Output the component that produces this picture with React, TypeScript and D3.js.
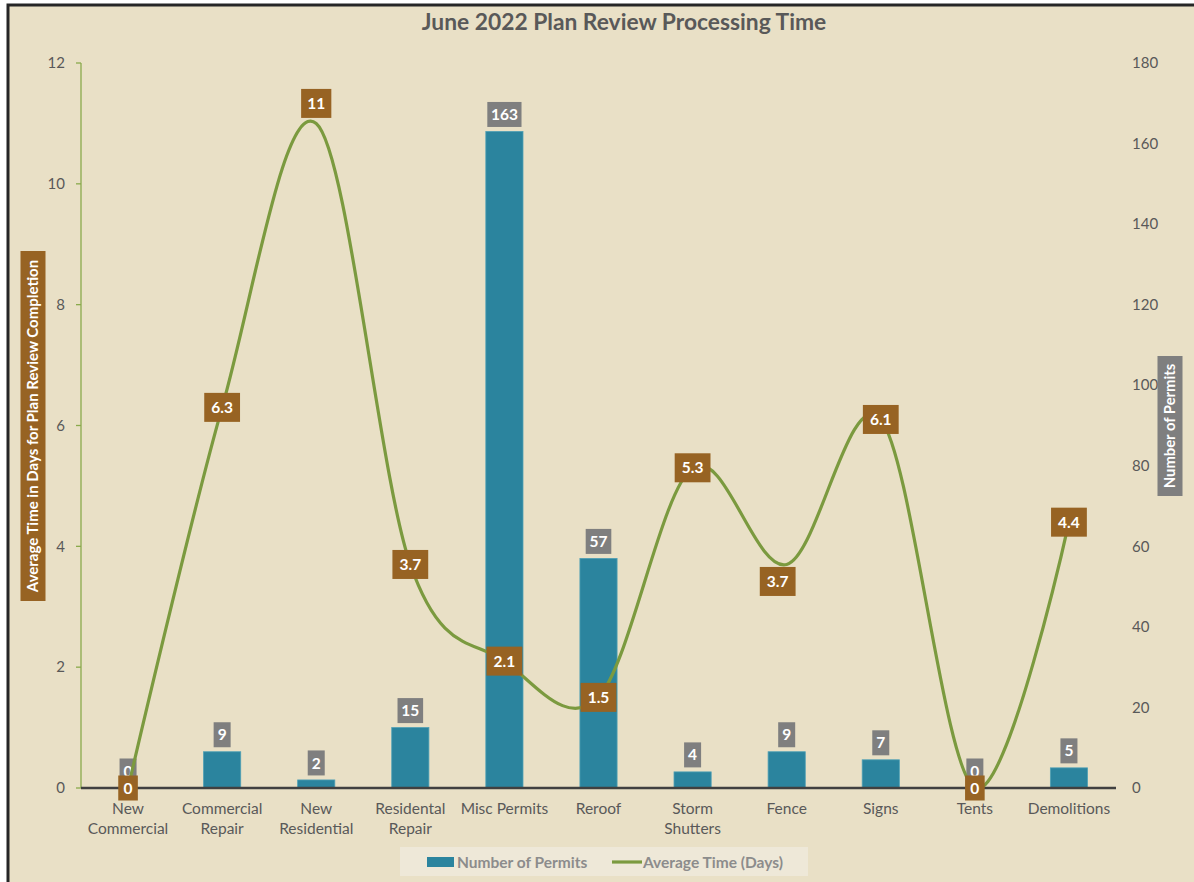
import React from "react";
import * as d3 from "d3";

const categories = [
  ["New", "Commercial"],
  ["Commercial", "Repair"],
  ["New", "Residential"],
  ["Residental", "Repair"],
  ["Misc Permits"],
  ["Reroof"],
  ["Storm", "Shutters"],
  ["Fence"],
  ["Signs"],
  ["Tents"],
  ["Demolitions"],
];
const permits = [0, 9, 2, 15, 163, 57, 4, 9, 7, 0, 5];
const avgDays = [0, 6.3, 11, 3.7, 2.1, 1.5, 5.3, 3.7, 6.1, 0, 4.4];
const avgLabelPlacement = ["center", "center", "above", "center", "center", "center", "center", "below", "center", "center", "center"];
const leftTicks = [0, 2, 4, 6, 8, 10, 12];
const rightTicks = [0, 20, 40, 60, 80, 100, 120, 140, 160, 180];

const W = 1194;
const H = 882;
const plot = { left: 81, right: 1116, top: 63, bottom: 788 };
const FONT = "Lato, 'Open Sans', sans-serif";
const TXT = "#595959";

export default function App() {
  const keys = categories.map((_, i) => String(i));
  const x = d3.scaleBand<string>().domain(keys).range([plot.left, plot.right]).padding(0);
  const yL = d3.scaleLinear().domain([0, 12]).range([plot.bottom, plot.top]);
  const yR = d3.scaleLinear().domain([0, 180]).range([plot.bottom, plot.top]);
  const bw = x.bandwidth();
  const barW = bw * 0.395;
  const cx = (i: number) => (x(String(i)) as number) + bw / 2;

  const line = d3
    .line<number>()
    .x((_, i) => cx(i))
    .y((d) => yL(d))
    .curve(d3.curveCardinal.tension(0));

  const gridXs = keys.slice(1).map((k) => x(k) as number).concat([plot.right]);

  const boxW = (s: string, per: number, pad: number) => s.length * per + pad * 2 - (s.includes(".") ? 3 : 0);

  return (
    <svg width={W} height={H} style={{ position: "absolute", left: 0, top: 0 }} fontFamily={FONT}>
      <defs>
        <linearGradient id="gridGrad" x1="0" y1="0" x2="0" y2="1">
          <stop offset="0" stopColor="#DDD8CC" />
          <stop offset="1" stopColor="#A9A7A2" />
        </linearGradient>
      </defs>
      <rect x={0} y={0} width={W} height={H} fill="#ffffff" />
      <rect x={8} y={5} width={W + 10} height={H + 10} fill="#E9E0C6" stroke="#262626" strokeWidth={3} />

      <text x={624} y={30} textAnchor="middle" fontSize={22.8} fontWeight={700} fill={TXT}>
        June 2022 Plan Review Processing Time
      </text>

      {gridXs.map((gx, i) => (
        <line key={i} x1={gx} x2={gx} y1={plot.top} y2={plot.bottom} stroke="url(#gridGrad)" strokeWidth={1.3} />
      ))}

      <line x1={plot.left} x2={plot.left} y1={plot.top} y2={plot.bottom} stroke="#8AAA4C" strokeWidth={1.3} />
      {leftTicks.map((t) => (
        <g key={t}>
          <line x1={plot.left - 5} x2={plot.left} y1={yL(t)} y2={yL(t)} stroke="#8AAA4C" strokeWidth={1.3} />
          <text x={65} y={yL(t)} dy="0.35em" textAnchor="end" fontSize={15} fill={TXT}>
            {t}
          </text>
        </g>
      ))}
      {rightTicks.map((t) => (
        <text key={t} x={1132} y={yR(t)} dy="0.35em" textAnchor="start" fontSize={15} fill={TXT}>
          {t}
        </text>
      ))}

      {permits.map((v, i) => (
        <rect
          key={i}
          x={cx(i) - barW / 2}
          y={yR(v)}
          width={barW}
          height={plot.bottom - yR(v)}
          fill="#2B849E"
          stroke="#4FA0B5"
          strokeWidth={0.8}
        />
      ))}

      <line x1={plot.left} x2={plot.right} y1={plot.bottom} y2={plot.bottom} stroke="#404040" strokeWidth={2.5} />

      {permits.map((v, i) => {
        const s = String(v);
        const w = boxW(s, 8.6, 4.2);
        const cy = yR(v) - 17;
        return (
          <g key={i}>
            <rect x={cx(i) - w / 2} y={cy - 12.5} width={w} height={25} fill="#7F7F7F" />
            <text x={cx(i)} y={cy} dy="0.36em" textAnchor="middle" fontSize={15.5} fontWeight={700} fill="#fff">
              {s}
            </text>
          </g>
        );
      })}

      <path d={line(avgDays) || ""} fill="none" stroke="#7B9A3F" strokeWidth={3.2} />

      {avgDays.map((v, i) => {
        const s = String(v);
        const w = boxW(s, 8.6, s.length > 1 ? 6.5 : 5.5);
        const p = avgLabelPlacement[i];
        const cy = yL(v) + (p === "above" ? -20 : p === "below" ? 17 : 0);
        const lx = cx(i) + (p === "below" ? -9 : 0);
        const h = s.length > 1 ? 29 : 25;
        return (
          <g key={i}>
            <rect x={lx - w / 2} y={cy - h / 2} width={w} height={h} fill="#976323" />
            <text x={lx} y={cy} dy="0.36em" textAnchor="middle" fontSize={15.5} fontWeight={700} fill="#fff">
              {s}
            </text>
          </g>
        );
      })}

      {categories.map((lines, i) => (
        <text key={i} x={cx(i)} y={814} textAnchor="middle" fontSize={15.5} fill={TXT}>
          {lines.map((l, j) => (
            <tspan key={j} x={cx(i)} dy={j === 0 ? 0 : 20}>
              {l}
            </tspan>
          ))}
        </text>
      ))}

      <g transform="translate(33,426) rotate(-90)">
        <rect x={-175} y={-12.5} width={350} height={25} fill="#976323" />
        <text x={0} y={0} dy="0.36em" textAnchor="middle" fontSize={15} fontWeight={700} fill="#fff">
          Average Time in Days for Plan Review Completion
        </text>
      </g>

      <g transform="translate(1170,426) rotate(-90)">
        <rect x={-70} y={-12.5} width={140} height={25} fill="#7F7F7F" />
        <text x={0} y={0} dy="0.36em" textAnchor="middle" fontSize={14.8} fontWeight={700} fill="#fff">
          Number of Permits
        </text>
      </g>

      <rect x={400} y={847} width={408} height={29} fill="#EEE8D8" />
      <rect x={427} y={857} width={27} height={10} fill="#2B849E" />
      <text x={457} y={862} dy="0.36em" fontSize={15.5} fontWeight={700} fill="#8C8C8C">
        Number of Permits
      </text>
      <line x1={612} x2={642} y1={862} y2={862} stroke="#7B9A3F" strokeWidth={3.2} />
      <text x={643} y={862} dy="0.36em" fontSize={15.5} fontWeight={700} fill="#8C8C8C">
        Average Time (Days)
      </text>
    </svg>
  );
}
